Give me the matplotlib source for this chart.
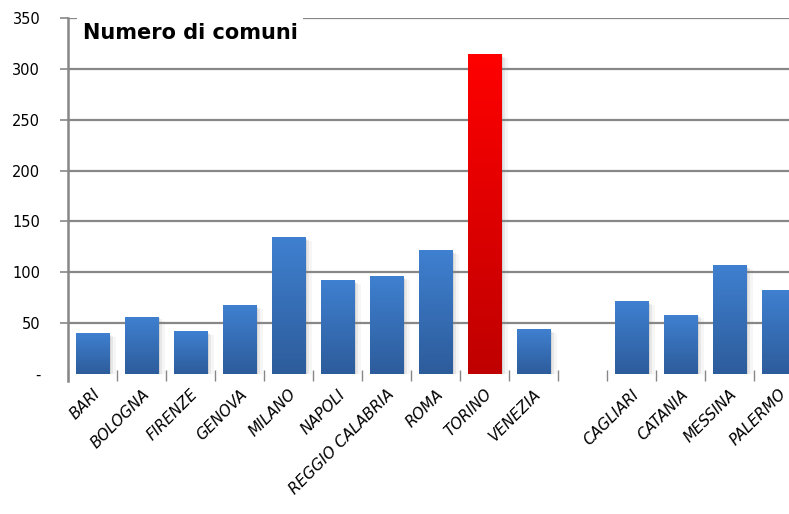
import numpy as np
import matplotlib
matplotlib.use("Agg")
import matplotlib.pyplot as plt
from matplotlib.colors import LinearSegmentedColormap
from matplotlib.patches import Rectangle

# data (blank slot between VENEZIA and CAGLIARI)
cities = ["BARI", "BOLOGNA", "FIRENZE", "GENOVA", "MILANO", "NAPOLI",
          "REGGIO CALABRIA", "ROMA", "TORINO", "VENEZIA", "",
          "CAGLIARI", "CATANIA", "MESSINA", "PALERMO"]
values = [40, 56, 42, 67, 134, 92, 96, 121, 314, 44, None, 71, 58, 107, 82]
highlight = "TORINO"
yticks = [0, 50, 100, 150, 200, 250, 300, 350]
ytick_labels = ["-", "50", "100", "150", "200", "250", "300", "350"]

blue_cmap = LinearSegmentedColormap.from_list("blue", ["#2d5c9b", "#3f80d0"])
red_cmap = LinearSegmentedColormap.from_list("red", ["#bf0000", "#ff0000"])
grid_col = "#878787"

fig = plt.figure(figsize=(7.89, 5.14), dpi=100)
# axes runs slightly past the right edge, like the cropped original
ax = fig.add_axes([68 / 789, 133 / 514, 735 / 789, 363 / 514])

x = np.arange(len(cities))
width = 0.68
grad = np.linspace(0, 1, 256).reshape(-1, 1)

for xi, name, v in zip(x, cities, values):
    if v is None:
        continue
    left = xi - width / 2
    # soft shadow on the right
    for k, a in enumerate([0.18, 0.12, 0.07]):
        off = 0.04 + 0.045 * k
        ax.add_patch(Rectangle((left + off, 0), width, v - 1.5 - k, color="#808080",
                               alpha=a, lw=0, zorder=2))
    cmap = red_cmap if name == highlight else blue_cmap
    ax.imshow(grad, cmap=cmap, origin="lower", aspect="auto",
              extent=(left, left + width, 0, v), zorder=3)

ax.set_xlim(-0.5, len(cities) - 0.5)
ax.set_ylim(-7, 350)

# horizontal gridlines (not at zero)
for t in yticks[1:]:
    ax.axhline(t, color=grid_col, lw=1.6, zorder=1)

ax.set_yticks(yticks)
ax.set_yticklabels(ytick_labels, fontsize=10.5, family="DejaVu Sans")
ax.tick_params(axis="y", length=6, width=1.2, color=grid_col, pad=14)
ax.yaxis.get_major_ticks()[0].tick1line.set_visible(False)

ax.set_xticks(np.arange(-0.5, len(cities) - 0.5, 1.0))
ax.set_xticklabels([])
ax.set_xticks(x, minor=True)
ax.set_xticklabels(cities, minor=True, rotation=45, ha="right", va="top",
                   rotation_mode="anchor", fontsize=11, style="italic",
                   family="DejaVu Sans")
ax.tick_params(axis="x", which="major", direction="in", length=8, width=1, color=grid_col)
ax.tick_params(axis="x", which="minor", length=0, pad=4)

for s in ["top", "right", "bottom"]:
    ax.spines[s].set_visible(False)
ax.spines["left"].set_color(grid_col)
ax.spines["left"].set_linewidth(1.8)

ax.text(0.02, 0.985, "Numero di comuni", transform=ax.transAxes, fontsize=15,
        fontweight="bold", ha="left", va="top", zorder=5,
        bbox=dict(facecolor="white", edgecolor="none", pad=4))

fig.savefig("out.png", dpi=100)
